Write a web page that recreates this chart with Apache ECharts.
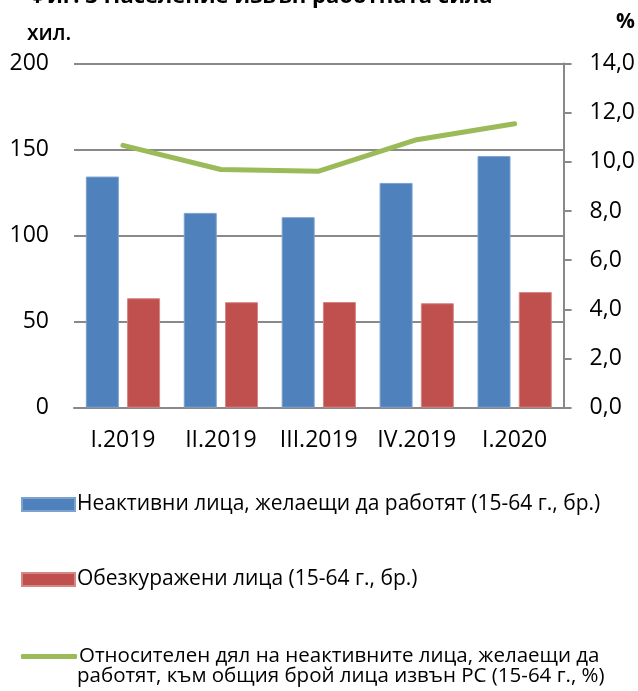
<!DOCTYPE html>
<html>
<head>
<meta charset="utf-8">
<title>Население извън работната сила</title>
<script src="https://cdn.jsdelivr.net/npm/echarts@6/dist/echarts.min.js"></script>
<style>
  html, body { margin: 0; padding: 0; background: #fff; }
  #chart { width: 638px; height: 691px; }
</style>
</head>
<body>
<div id="chart"></div>
<script>
// данни
const categories = ['I.2019', 'II.2019', 'III.2019', 'IV.2019', 'I.2020'];
const inactiveWilling = [134.3, 113.2, 110.7, 130.6, 146.2];
const discouraged = [63.6, 61.3, 61.4, 60.7, 67.2];
const shareInactive = [10.67, 9.69, 9.62, 10.9, 11.55];

const seriesNames = [
  'Неактивни лица, желаещи да работят (15-64 г., бр.)',
  'Обезкуражени лица (15-64 г., бр.)',
  'Относителен дял на неактивните лица, желаещи да работят, към общия брой лица извън РС (15-64 г., %)'
];

const font = 'Open Sans';
const gray = '#898989';

let myChart = echarts.init(document.getElementById('chart'));

let option = {
  animation: false,
  textStyle: { fontFamily: font },
  title: [
    {
      text: 'Фиг. 3 Население извън работната сила',
      left: 23, top: -19,
      textStyle: { fontFamily: font, fontSize: 22, fontWeight: 'bold', color: '#000' }
    },
    {
      text: 'хил.',
      left: 22, top: 19,
      textStyle: { fontFamily: font, fontSize: 21, fontWeight: 600, color: '#000' }
    },
    {
      text: '%',
      left: 611, top: 7,
      textStyle: { fontFamily: font, fontSize: 21, fontWeight: 'bold', color: '#000' }
    }
  ],
  grid: { left: 74, right: 73, top: 63.5, bottom: 283.3, containLabel: false },
  legend: [
    {
      data: [seriesNames[0]],
      left: 16, top: 489,
      itemWidth: 53, itemHeight: 13,
      icon: 'rect',
      textStyle: { fontFamily: font, fontSize: 21, color: '#000', padding: [0, 0, 0, -3] }
    },
    {
      data: [seriesNames[1]],
      left: 16, top: 564,
      itemWidth: 53, itemHeight: 13,
      icon: 'rect',
      textStyle: { fontFamily: font, fontSize: 21, color: '#000', padding: [0, 0, 0, -3] }
    },
    {
      data: [{ name: seriesNames[2], icon: 'roundRect' }],
      left: 16, top: 641,
      itemWidth: 56, itemHeight: 5,
      formatter: function () {
        return 'Относителен дял на неактивните лица, желаещи да';
      },
      textStyle: { fontFamily: font, fontSize: 20.5, color: '#000', padding: [0, 0, 0, -3] }
    }
  ],
  graphic: [
    {
      type: 'text',
      left: 77, top: 666,
      style: {
        text: 'работят, към общия брой лица извън РС (15-64 г., %)',
        fontFamily: font, fontSize: 20.5, fill: '#000'
      }
    }
  ],
  xAxis: {
    type: 'category',
    data: categories,
    axisLine: { lineStyle: { color: gray, width: 2 } },
    axisTick: { show: false },
    axisLabel: { fontFamily: font, fontSize: 23, color: '#000', margin: 21, interval: 0 }
  },
  yAxis: [
    {
      type: 'value',
      min: 0, max: 200, interval: 50,
      axisLine: { show: false },
      axisTick: { show: false },
      splitLine: { lineStyle: { color: gray, width: 2 } },
      axisLabel: { fontFamily: font, fontSize: 23, color: '#000', margin: 25 }
    },
    {
      type: 'value',
      min: 0, max: 14, interval: 2,
      position: 'right',
      axisLine: { show: true, lineStyle: { color: gray, width: 2 } },
      axisTick: { show: true, inside: false, length: 8, lineStyle: { color: gray, width: 2 } },
      splitLine: { show: false },
      axisLabel: {
        fontFamily: font, fontSize: 23, color: '#000', margin: 26,
        formatter: function (v) { return v.toFixed(1).replace('.', ','); }
      }
    }
  ],
  series: [
    {
      name: seriesNames[0],
      type: 'bar',
      data: inactiveWilling,
      barWidth: 33,
      barGap: '25%',
      itemStyle: { color: '#4F81BD', borderColor: '#7DA2CE', borderWidth: 1 }
    },
    {
      name: seriesNames[1],
      type: 'bar',
      data: discouraged,
      barWidth: 33,
      itemStyle: { color: '#C0504D', borderColor: '#D68684', borderWidth: 1 }
    },
    {
      name: seriesNames[2],
      type: 'line',
      yAxisIndex: 1,
      data: shareInactive,
      symbol: 'none',
      lineStyle: { color: '#9BBB59', width: 5, cap: 'round', join: 'round' },
      itemStyle: { color: '#9BBB59' }
    }
  ]
};

myChart.setOption(option);
</script>
</body>
</html>
